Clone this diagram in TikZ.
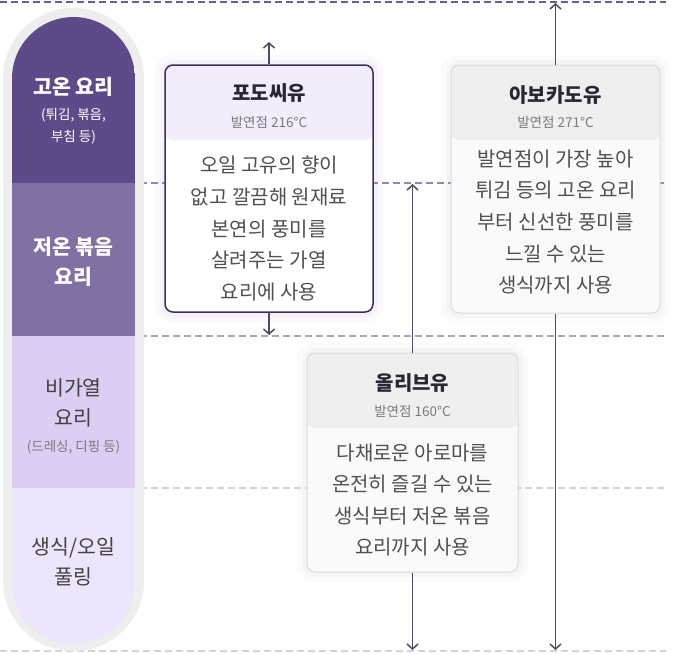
\documentclass[tikz,border=0pt]{standalone}
\usepackage{fontspec}
\setmainfont{Noto Sans CJK KR}
\usetikzlibrary{arrows.meta}

\definecolor{hotcol}{HTML}{5E4A88}
\definecolor{lowcol}{HTML}{8070A4}
\definecolor{rawcol}{HTML}{DCCDF3}
\definecolor{pullcol}{HTML}{EDE5FC}
\definecolor{ringcol}{HTML}{EEEEEE}
\definecolor{grapeline}{HTML}{3C2E5B}
\definecolor{grapehead}{HTML}{F2ECFD}
\definecolor{grapehaloA}{HTML}{FBF9FD}
\definecolor{grapehaloB}{HTML}{F6F2FB}
\definecolor{grayline}{HTML}{D9D9D9}
\definecolor{grayhead}{HTML}{EFEFEF}
\definecolor{grayhaloA}{HTML}{FBFBFB}
\definecolor{grayhaloB}{HTML}{F5F5F5}
\definecolor{arrowcol}{HTML}{4F4B5C}
\definecolor{titlecol}{HTML}{2A2733}
\definecolor{bodycol}{HTML}{505050}
\definecolor{subcol}{HTML}{7A7A7A}
\definecolor{dashA}{HTML}{6E5B98}
\definecolor{dashB}{HTML}{9486B4}
\definecolor{dashC}{HTML}{ADA0C8}
\definecolor{dashD}{HTML}{D6D1E0}

\begin{document}
\begin{tikzpicture}[
  x=1pt, y=-1pt,
  >={Straight Barb[length=5pt,width=11pt]},
  every node/.style={inner sep=0pt},
  sepline/.style={dash pattern=on 7pt off 4pt, line width=1.6pt},
  arc/.style={->, line width=1.5pt, draw=arrowcol},
  lefthead/.style={font=\bfseries\fontsize{20.5}{30}\selectfont, text=white, align=center},
  leftlight/.style={font=\fontsize{20.5}{30}\selectfont, text=bodycol!80!black, align=center},
  leftnote/.style={font=\fontsize{13.5}{22}\selectfont, align=center},
  oiltitle/.style={font=\bfseries\fontsize{20}{22}\selectfont, text=titlecol},
  oilsub/.style={font=\fontsize{13.5}{15}\selectfont, text=subcol},
  oilbody/.style={font=\fontsize{20}{31.6}\selectfont, text=bodycol, align=center},
  grapebox/.style={draw=grapeline, line width=1.5pt, fill=white, rounded corners=8pt,
    path picture={\fill[grapehead] (path picture bounding box.north west)
      rectangle ([yshift=-75pt]path picture bounding box.north east);}},
  graybox/.style={draw=grayline, line width=1pt, fill=white!98!black, rounded corners=8pt,
    path picture={\fill[grayhead] (path picture bounding box.north west)
      rectangle ([yshift=-75pt]path picture bounding box.north east);}}
]
\useasboundingbox (0,0) rectangle (690,653);

% soft halos behind the cards
\fill[grapehaloA, rounded corners=16pt] (155,55) rectangle (383,322);
\fill[grapehaloB, rounded corners=12pt] (160,60) rectangle (378,317);
\fill[grayhaloA, rounded corners=16pt] (441,55) rectangle (670,323);
\fill[grayhaloB, rounded corners=12pt] (446,60) rectangle (665,318);
\fill[grayhaloA, rounded corners=16pt] (297,343) rectangle (528,582);
\fill[grayhaloB, rounded corners=12pt] (302,348) rectangle (523,577);

% level lines
\draw[sepline, draw=dashA, line width=2.2pt] (0,2) -- (666,2);
\draw[sepline, draw=dashB] (140,183) -- (666,183);
\draw[sepline, draw=dashC] (140,336) -- (666,336);
\draw[sepline, draw=dashD] (140,488) -- (666,488);
\draw[sepline, draw=dashD] (0,651) -- (666,651);

% cooking column
\fill[ringcol, rounded corners=70pt] (3,8) rectangle (144,651);
\begin{scope}
\clip[rounded corners=61.5pt] (12,17) rectangle (135,644);
\fill[hotcol] (12,17) rectangle (135,183);
\fill[lowcol] (12,183) rectangle (135,336);
\fill[rawcol] (12,336) rectangle (135,488);
\fill[pullcol] (12,488) rectangle (135,644);
\end{scope}

\node[lefthead] (hot) at (73.5,87) {고온 요리};
\node[leftnote, text=white] (hotnote) at (73.5,126) {(튀김, 볶음,\\부침 등)};
\node[lefthead] (low) at (73.5,262) {저온 볶음\\요리};
\node[leftlight] (raw) at (73.5,403) {비가열\\요리};
\node[leftnote, text=subcol] (rawnote) at (73.5,447) {(드레싱, 디핑 등)};
\node[leftlight] (pull) at (73.5,562) {생식/오일\\풀링};

% oil cards
\node[grapebox, minimum width=208pt, minimum height=247pt] (grape) at (269,188.5) {};
\node[oiltitle] (grapename) at (269,93) {포도씨유};
\node[oilsub] (grapesmoke) at (269,122) {발연점 216°C};
\node[oilbody] (grapetext) at (269,228.5) {오일 고유의 향이\\없고 깔끔해 원재료\\본연의 풍미를\\살려주는 가열\\요리에 사용};

\node[graybox, minimum width=209pt, minimum height=248pt] (avo) at (555.5,189) {};
\node[oiltitle] (avoname) at (555.5,95) {아보카도유};
\node[oilsub] (avosmoke) at (555.5,122) {발연점 271°C};
\node[oilbody] (avotext) at (555.5,222) {발연점이 가장 높아\\튀김 등의 고온 요리\\부터 신선한 풍미를\\느낄 수 있는\\생식까지 사용};

\node[graybox, minimum width=211pt, minimum height=219pt] (olive) at (412.5,462.5) {};
\node[oiltitle] (olivename) at (412.5,383) {올리브유};
\node[oilsub] (olivesmoke) at (412.5,411) {발연점 160°C};
\node[oilbody] (olivetext) at (412.5,500) {다채로운 아로마를\\온전히 즐길 수 있는\\생식부터 저온 볶음\\요리까지 사용};

% ranges
\coordinate (gup) at (269,42);
\coordinate (gdown) at (269,335);
\coordinate (aup) at (555.5,3);
\coordinate (adown) at (555.5,650);
\coordinate (oup) at (412.5,184);
\coordinate (odown) at (412.5,650);
\draw[arc] (grape.north) -- (gup);
\draw[arc] (grape.south) -- (gdown);
\draw[arc] (avo.north) -- (aup);
\draw[arc] (avo.south) -- (adown);
\draw[arc] (olive.north) -- (oup);
\draw[arc] (olive.south) -- (odown);
\end{tikzpicture}
\end{document}
